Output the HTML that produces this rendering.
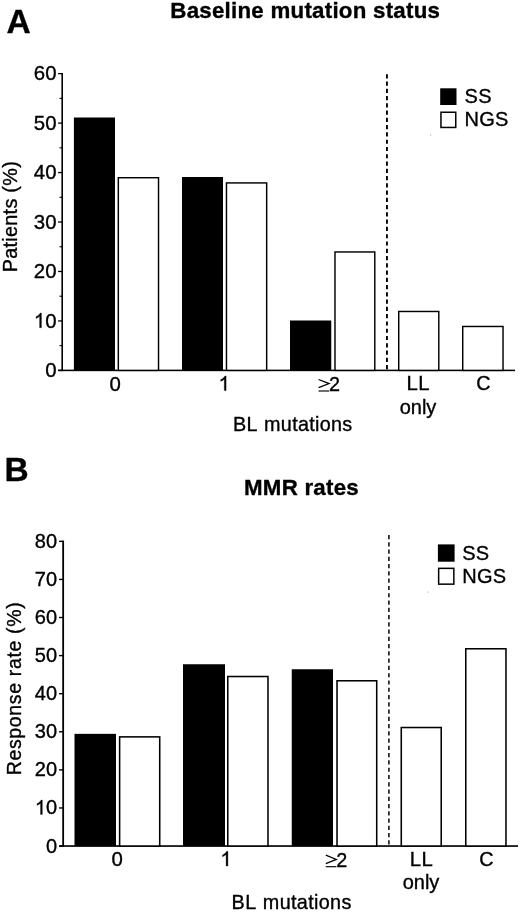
<!DOCTYPE html>
<html><head><meta charset="utf-8"><title>Figure</title>
<style>
html,body{margin:0;padding:0;background:#fff;}
svg{display:block;will-change:transform;filter:grayscale(1);}
text{font-family:"Liberation Sans",sans-serif;fill:#000;stroke:#000;stroke-width:0.35;}
path{stroke:#000;stroke-width:34;}
</style></head>
<body>
<svg width="520" height="912" viewBox="0 0 520 912">
<rect width="520" height="912" fill="#fff"/>
<rect x="61.40" y="72.99" width="1.6" height="298.18" fill="#000"/>
<rect x="58.10" y="369.62" width="456.90" height="1.55" fill="#000"/>
<rect x="58.10" y="369.75" width="4.1" height="1.3" fill="#000"/>
<rect x="59.50" y="345.12" width="2.7" height="1.1" fill="#000"/>
<rect x="58.10" y="320.29" width="4.1" height="1.3" fill="#000"/>
<rect x="59.50" y="295.66" width="2.7" height="1.1" fill="#000"/>
<rect x="58.10" y="270.83" width="4.1" height="1.3" fill="#000"/>
<rect x="59.50" y="246.20" width="2.7" height="1.1" fill="#000"/>
<rect x="58.10" y="221.37" width="4.1" height="1.3" fill="#000"/>
<rect x="59.50" y="196.74" width="2.7" height="1.1" fill="#000"/>
<rect x="58.10" y="171.91" width="4.1" height="1.3" fill="#000"/>
<rect x="59.50" y="147.28" width="2.7" height="1.1" fill="#000"/>
<rect x="58.10" y="122.45" width="4.1" height="1.3" fill="#000"/>
<rect x="59.50" y="97.82" width="2.7" height="1.1" fill="#000"/>
<rect x="58.10" y="72.99" width="4.1" height="1.3" fill="#000"/>
<rect x="73.9" y="117.5" width="41.10" height="252.90" fill="#000"/>
<rect x="182" y="177" width="41.00" height="193.40" fill="#000"/>
<rect x="290" y="320.5" width="41.25" height="49.90" fill="#000"/>
<rect x="118.32" y="177.72" width="40.20" height="192.67" fill="#fff" stroke="#000" stroke-width="1.45"/>
<rect x="226.47" y="182.92" width="40.20" height="187.47" fill="#fff" stroke="#000" stroke-width="1.45"/>
<rect x="334.98" y="251.97" width="39.80" height="118.42" fill="#fff" stroke="#000" stroke-width="1.45"/>
<rect x="398.73" y="311.48" width="40.05" height="58.92" fill="#fff" stroke="#000" stroke-width="1.45"/>
<rect x="462.73" y="326.48" width="40.30" height="43.92" fill="#fff" stroke="#000" stroke-width="1.45"/>
<line x1="386.95" y1="74.2" x2="386.95" y2="370.4" stroke="#000" stroke-width="1.9" stroke-dasharray="4.2 3.07"/>
<rect x="62.25" y="540.63" width="1.8" height="306.25" fill="#000"/>
<rect x="59.05" y="845.22" width="458.95" height="1.65" fill="#000"/>
<rect x="59.05" y="845.35" width="4.1" height="1.4" fill="#000"/>
<rect x="59.05" y="807.26" width="4.1" height="1.4" fill="#000"/>
<rect x="59.05" y="769.17" width="4.1" height="1.4" fill="#000"/>
<rect x="59.05" y="731.08" width="4.1" height="1.4" fill="#000"/>
<rect x="59.05" y="692.99" width="4.1" height="1.4" fill="#000"/>
<rect x="59.05" y="654.90" width="4.1" height="1.4" fill="#000"/>
<rect x="59.05" y="616.81" width="4.1" height="1.4" fill="#000"/>
<rect x="59.05" y="578.72" width="4.1" height="1.4" fill="#000"/>
<rect x="59.05" y="540.63" width="4.1" height="1.4" fill="#000"/>
<rect x="74.5" y="733.85" width="41.50" height="112.20" fill="#000"/>
<rect x="183" y="664.25" width="42.00" height="181.80" fill="#000"/>
<rect x="291.75" y="669.25" width="41.25" height="176.80" fill="#000"/>
<rect x="119.62" y="736.88" width="40.10" height="109.17" fill="#fff" stroke="#000" stroke-width="1.55"/>
<rect x="227.78" y="676.52" width="40.20" height="169.52" fill="#fff" stroke="#000" stroke-width="1.55"/>
<rect x="337.02" y="680.77" width="39.70" height="165.27" fill="#fff" stroke="#000" stroke-width="1.55"/>
<rect x="401.27" y="727.52" width="39.95" height="118.52" fill="#fff" stroke="#000" stroke-width="1.55"/>
<rect x="465.77" y="648.77" width="40.20" height="197.27" fill="#fff" stroke="#000" stroke-width="1.55"/>
<line x1="388.9" y1="535" x2="388.9" y2="846.05" stroke="#222" stroke-width="1.7" stroke-dasharray="4.2 3.07"/>
<rect x="440.2" y="88.3" width="16.3" height="16.7" fill="#000"/>
<rect x="440.95" y="112.25" width="14.8" height="15.2" fill="#fff" stroke="#000" stroke-width="1.5"/>
<text x="464.50" y="102.50" font-size="20" letter-spacing="0.3" >SS</text>
<text x="464.50" y="125.60" font-size="20" letter-spacing="0.3" >NGS</text>
<rect x="437.9" y="544.4" width="16.7" height="17.3" fill="#000"/>
<rect x="438.65" y="568.35" width="15.2" height="15.8" fill="#fff" stroke="#000" stroke-width="1.5"/>
<text x="462.20" y="559.60" font-size="20" letter-spacing="0.3" >SS</text>
<text x="462.20" y="582.70" font-size="20" letter-spacing="0.3" >NGS</text>
<rect x="430" y="134.5" width="1.2" height="1.2" fill="#bbb"/><rect x="427.5" y="591.5" width="1.2" height="1.2" fill="#bbb"/>
<text x="6.50" y="33.00" font-size="33.5" font-weight="bold" >A</text>
<text x="4.50" y="481.00" font-size="33.5" font-weight="bold" >B</text>
<text x="170.30" y="17.60" font-size="22.3" font-weight="bold" letter-spacing="0.25" >Baseline mutation status</text>
<text x="244.00" y="495.20" font-size="22.3" font-weight="bold" letter-spacing="0.25" >MMR rates</text>
<text x="45.16" y="377.15" font-size="20.4" >0</text>
<text x="45.16" y="327.69" font-size="20.4" >0</text>
<path transform="translate(33.82,327.69) scale(0.009961,-0.009961)" d="M763 0H583V1147Q518 1085 412.5 1023T223 930V1104Q373 1174.5 485.5 1275T645 1470H763Z"/>
<text x="45.16" y="278.23" font-size="20.4" >0</text>
<text x="33.82" y="278.23" font-size="20.4" >2</text>
<text x="45.16" y="228.77" font-size="20.4" >0</text>
<text x="33.82" y="228.77" font-size="20.4" >3</text>
<text x="45.16" y="179.31" font-size="20.4" >0</text>
<text x="33.82" y="179.31" font-size="20.4" >4</text>
<text x="45.16" y="129.85" font-size="20.4" >0</text>
<text x="33.82" y="129.85" font-size="20.4" >5</text>
<text x="45.16" y="80.39" font-size="20.4" >0</text>
<text x="33.82" y="80.39" font-size="20.4" >6</text>
<text x="45.98" y="852.50" font-size="20.0" >0</text>
<text x="45.98" y="814.41" font-size="20.0" >0</text>
<path transform="translate(34.86,814.41) scale(0.009766,-0.009766)" d="M763 0H583V1147Q518 1085 412.5 1023T223 930V1104Q373 1174.5 485.5 1275T645 1470H763Z"/>
<text x="45.98" y="776.32" font-size="20.0" >0</text>
<text x="34.86" y="776.32" font-size="20.0" >2</text>
<text x="45.98" y="738.23" font-size="20.0" >0</text>
<text x="34.86" y="738.23" font-size="20.0" >3</text>
<text x="45.98" y="700.14" font-size="20.0" >0</text>
<text x="34.86" y="700.14" font-size="20.0" >4</text>
<text x="45.98" y="662.05" font-size="20.0" >0</text>
<text x="34.86" y="662.05" font-size="20.0" >5</text>
<text x="45.98" y="623.96" font-size="20.0" >0</text>
<text x="34.86" y="623.96" font-size="20.0" >6</text>
<text x="45.98" y="585.87" font-size="20.0" >0</text>
<text x="34.86" y="585.87" font-size="20.0" >7</text>
<text x="45.98" y="547.78" font-size="20.0" >0</text>
<text x="34.86" y="547.78" font-size="20.0" >8</text>
<text x="109.53" y="390.60" font-size="20.4" >0</text>
<path transform="translate(218.50,390.60) scale(0.009961,-0.009961)" d="M763 0H583V1147Q518 1085 412.5 1023T223 930V1104Q373 1174.5 485.5 1275T645 1470H763Z"/>
<polyline points="318.60,379.50 329.10,383.60 318.60,387.70" fill="none" stroke="#000" stroke-width="1.25" stroke-linejoin="miter"/><line x1="318.50" y1="391.00" x2="329.20" y2="391.00" stroke="#000" stroke-width="1.15"/>
<text x="328.89" y="391.10" font-size="19.8" >2</text>
<text x="418.20" y="390.30" font-size="20.3" text-anchor="middle" letter-spacing="0.5" >LL</text>
<text x="418.00" y="413.90" font-size="20.0" text-anchor="middle" letter-spacing="-0.1" >only</text>
<text x="483.30" y="389.90" font-size="19.8" text-anchor="middle" >C</text>
<text x="233.00" y="430.80" font-size="19.8" letter-spacing="0.3" word-spacing="1.2">BL mutations</text>
<text x="111.43" y="866.00" font-size="20.4" >0</text>
<path transform="translate(220.30,866.00) scale(0.009961,-0.009961)" d="M763 0H583V1147Q518 1085 412.5 1023T223 930V1104Q373 1174.5 485.5 1275T645 1470H763Z"/>
<polyline points="325.80,855.20 336.30,859.45 325.80,863.70" fill="none" stroke="#000" stroke-width="1.25" stroke-linejoin="miter"/><line x1="325.70" y1="866.70" x2="336.40" y2="866.70" stroke="#000" stroke-width="1.15"/>
<text x="336.29" y="867.00" font-size="19.8" >2</text>
<text x="421.60" y="865.60" font-size="20.3" text-anchor="middle" letter-spacing="0.5" >LL</text>
<text x="421.00" y="889.00" font-size="20.0" text-anchor="middle" letter-spacing="-0.1" >only</text>
<text x="486.30" y="865.90" font-size="19.8" text-anchor="middle" >C</text>
<text x="231.60" y="909.00" font-size="19.8" letter-spacing="0.35" word-spacing="1.2">BL mutations</text>
<text transform="translate(16.7,272.3) rotate(-90)" font-size="19.8" letter-spacing="0.3">Patients (%)</text>
<text transform="translate(20.7,775.3) rotate(-90)" font-size="19.5" letter-spacing="0.65">Response rate (%)</text>
</svg>
</body></html>
